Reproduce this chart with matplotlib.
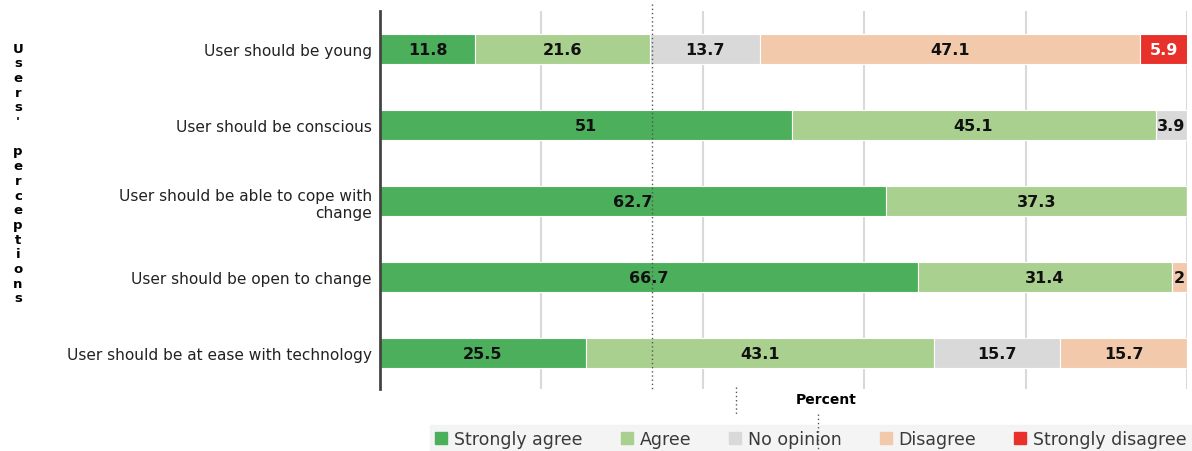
import matplotlib.pyplot as plt
import numpy as np
from matplotlib.lines import Line2D

plt.rcParams['font.family'] = ['DejaVu Sans']

categories = ["User should be young",
              "User should be conscious",
              "User should be able to cope with\nchange",
              "User should be open to change",
              "User should be at ease with technology"]

responses = ["Strongly agree", "Agree", "No opinion", "Disagree", "Strongly disagree"]

strongly_agree = [11.8, 51, 62.7, 66.7, 25.5]
agree = [21.6, 45.1, 37.3, 31.4, 43.1]
no_opinion = [13.7, 3.9, 0, 0, 15.7]
disagree = [47.1, 0, 0, 2, 15.7]
strongly_disagree = [5.9, 0, 0, 0, 0]

series = [strongly_agree, agree, no_opinion, disagree, strongly_disagree]
colors = ["#4caf5b", "#a9d08e", "#d9d9d9", "#f3c9ac", "#e8312a"]
text_colors = ["#111111", "#111111", "#111111", "#111111", "white"]

fig = plt.figure(figsize=(11.92, 4.52), dpi=100)
ax = fig.add_axes([380 / 1192, 1 - 390 / 452, 807 / 1192, 378 / 452])

y = np.arange(len(categories))
left = np.zeros(len(categories))
for vals, col, tcol in zip(series, colors, text_colors):
    vals = np.array(vals)
    bars = ax.barh(y, vals, left=left, height=0.4, color=col,
                   edgecolor='white', linewidth=0.8, zorder=3)
    for b, v in zip(bars, vals):
        if v > 0:
            lab = f"{v:g}"
            ax.text(b.get_x() + b.get_width() / 2, b.get_y() + b.get_height() / 2,
                    lab, ha='center', va='center', fontsize=11.5,
                    fontweight='bold', color=tcol, zorder=4)
    left += vals

ax.set_xlim(0, 100)
ax.set_ylim(4.47, -0.5)
ax.set_yticks(y)
ax.set_yticklabels(categories, fontsize=11.1, color='#222222')
ax.tick_params(axis='y', length=0, pad=6)
ax.set_xticks([20, 40, 60, 80, 100])
ax.set_xticklabels([])
ax.tick_params(axis='x', length=0)
ax.grid(axis='x', color='#d9d9d9', linewidth=1.5, zorder=0)
for s in ['top', 'right', 'bottom']:
    ax.spines[s].set_visible(False)
ax.spines['left'].set_color('#444444')
ax.spines['left'].set_linewidth(2)
ax.spines['left'].set_zorder(5)

# axis titles
fig.text(826 / 1192, 1 - 400 / 452, "Percent", ha='center', va='center',
         fontsize=10, fontweight='bold')
ylabel = "Users' perceptions"
fig.text(18 / 1192, 1 - 174 / 452, "\n".join(ylabel), ha='center', va='center',
         fontsize=9.5, fontweight='bold', linespacing=1.17)

# dotted guide lines
for x0, y0, y1 in [(652, 5, 390), (736, 388, 415), (818, 415, 452)]:
    fig.add_artist(Line2D([x0 / 1192, x0 / 1192], [1 - y0 / 452, 1 - y1 / 452],
                          transform=fig.transFigure, color='#555555',
                          linestyle=(0, (1, 2)), linewidth=1, zorder=10))

# legend
handles = [plt.Rectangle((0, 0), 1, 1, color=c) for c in colors]
leg = fig.legend(handles, responses, loc='lower left',
                 bbox_to_anchor=(430 / 1192, -2 / 452, 762 / 1192, 28 / 452),
                 mode='expand', ncol=5, frameon=True, fontsize=12.5,
                 handlelength=0.7, handleheight=0.7, handletextpad=0.4,
                 columnspacing=1.2, borderpad=0.3, borderaxespad=0)
leg.get_frame().set_facecolor('#f2f2f2')
leg.get_frame().set_edgecolor('#f2f2f2')
leg.get_frame().set_boxstyle('square', pad=0)
for t in leg.get_texts():
    t.set_color('#3a3a3a')

fig.savefig('out.png', dpi=100)
